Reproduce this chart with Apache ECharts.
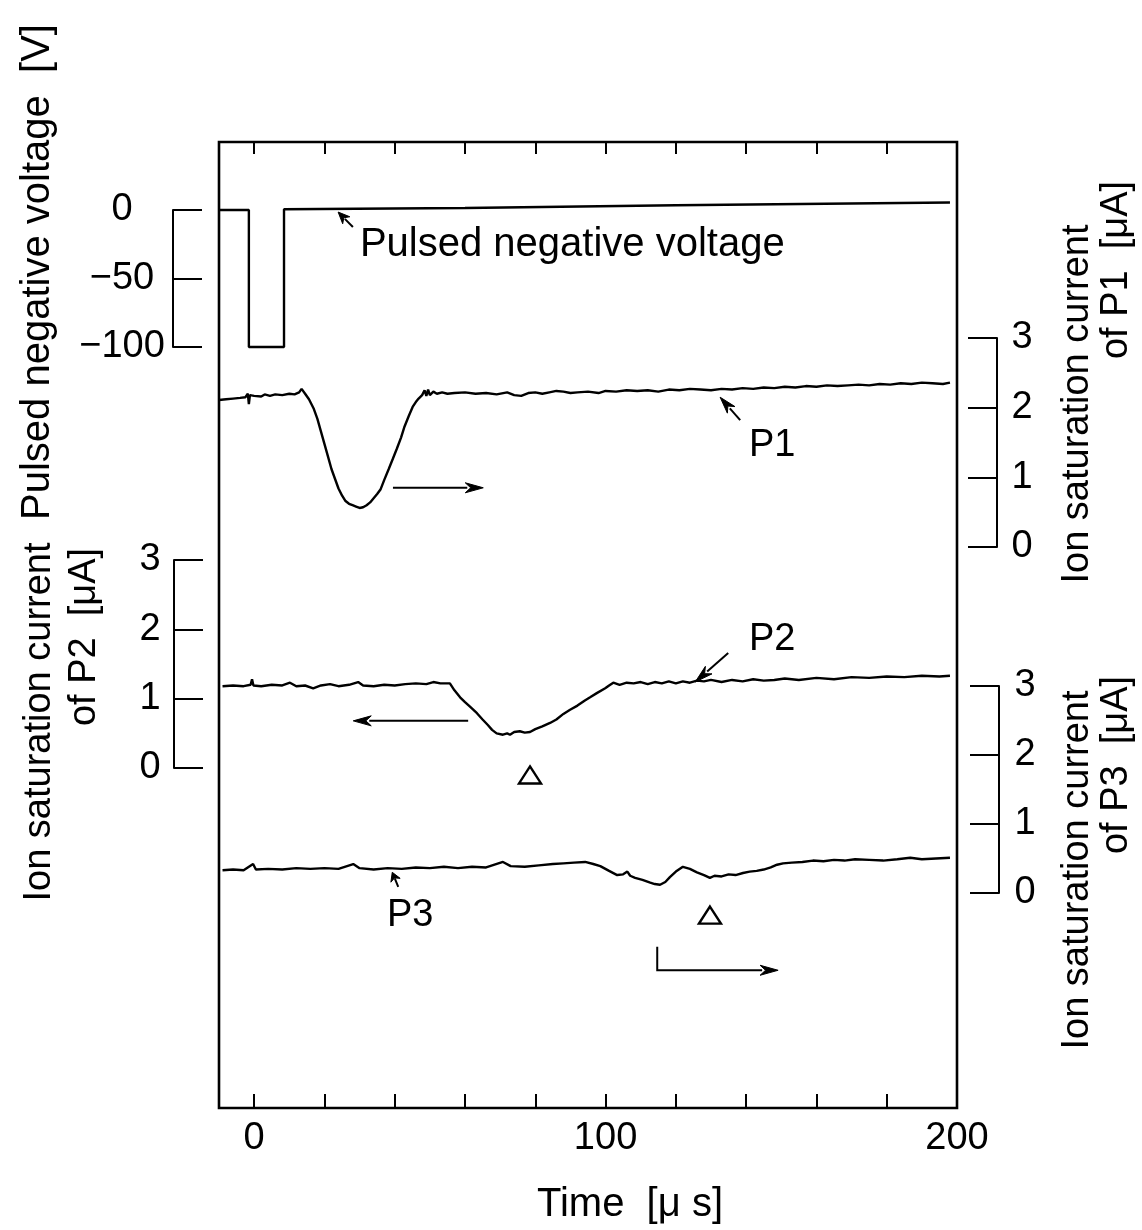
<!DOCTYPE html>
<html><head><meta charset="utf-8">
<script src="https://cdn.jsdelivr.net/npm/echarts@6/dist/echarts.min.js"></script>
<style>html,body{margin:0;padding:0;background:#fff}#c{width:1142px;height:1230px}</style>
</head><body><div id="c"></div>
<script>
const FONT = '"Liberation Sans", Arial, sans-serif';

// ---- axes ----
const timeMin = -10, timeMax = 200;
const xTickValues = [0, 20, 40, 60, 80, 100, 120, 140, 160, 180];
const xLabelValues = [0, 100, 200];

// ---- pulsed negative voltage [V] ----
const voltTime  = [-10, -1.5, -1.5, 8.5, 8.5, 60, 120, 198];
const voltValue = [0, 0, -100, -100, 0.5, 1.5, 3.5, 5.5];

// ---- P1 ion saturation current [uA] ----
const p1Time = [-10,-8,-6,-4,-2.5,-1.8,-1.5,-1.2,0,2,3,4.5,6,8,10,11.5,12.8,13.5,14.5,15.6,17,18,19,20,21,22,23,24,25,26,27,28,29,30,31,32,33,34,35,36,37,38.3,39.5,40.6,41.8,42.8,44,45.1,46,46.8,47.8,48.5,49,49.5,50,51,52,53.5,55,57,60,63,66,69,72,74,76,78,80,82,84,86,88,90,92,95,98,100,103,106,109,112,115,118,121,124,127,130,133,136,139,142,145,148,151,154,157,160,163,166,169,172,175,178,181,184,187,190,193,196,198];
const p1Value = [2.11,2.12,2.13,2.14,2.15,2.20,2.05,2.18,2.17,2.16,2.19,2.17,2.19,2.18,2.20,2.19,2.22,2.27,2.20,2.12,1.98,1.84,1.66,1.48,1.30,1.12,0.98,0.84,0.74,0.66,0.62,0.60,0.58,0.56,0.57,0.60,0.64,0.70,0.76,0.83,0.96,1.12,1.27,1.41,1.57,1.73,1.88,2.01,2.08,2.13,2.18,2.25,2.17,2.26,2.18,2.23,2.20,2.22,2.20,2.21,2.22,2.20,2.21,2.19,2.22,2.18,2.17,2.21,2.22,2.20,2.22,2.24,2.23,2.21,2.22,2.23,2.21,2.24,2.23,2.25,2.24,2.25,2.23,2.26,2.25,2.27,2.26,2.25,2.27,2.26,2.28,2.27,2.29,2.28,2.30,2.29,2.31,2.30,2.32,2.31,2.32,2.33,2.32,2.34,2.33,2.35,2.34,2.36,2.35,2.34,2.36];

// ---- P2 ion saturation current [uA] ----
const p2Time = [-9,-6,-3,-1,-0.6,-0.2,2,5,8,10.2,12,14.5,16.8,19,21.6,24,27,29.6,31,34,37,40,43,46,49,51,53,55.7,57,58.6,60,61.5,63.4,65,66.5,67.7,69,70.8,72,72.8,74,75.6,77,78.5,80,82,84.2,86,88,89.9,92,94,95.6,97.5,99.9,101,102.2,104,106,108,110,112,114,116,118,120,122,124,126,128,130,133,136,139,142,145,148,151,155,160,165,170,175,180,185,190,195,198];
const p2Value = [1.18,1.19,1.18,1.20,1.28,1.19,1.18,1.20,1.19,1.23,1.18,1.19,1.15,1.19,1.21,1.18,1.20,1.24,1.19,1.18,1.20,1.19,1.21,1.22,1.21,1.24,1.22,1.22,1.12,1.02,0.95,0.88,0.79,0.70,0.62,0.55,0.50,0.48,0.50,0.48,0.52,0.53,0.51,0.52,0.56,0.60,0.65,0.70,0.78,0.84,0.90,0.97,1.02,1.08,1.15,1.19,1.23,1.20,1.23,1.22,1.24,1.21,1.24,1.22,1.25,1.22,1.25,1.23,1.26,1.25,1.27,1.24,1.27,1.25,1.28,1.26,1.27,1.29,1.27,1.30,1.28,1.31,1.30,1.32,1.31,1.33,1.32,1.33];

// ---- P3 ion saturation current [uA] ----
const p3Time = [-9,-6,-3,-0.3,0.5,4,8,12,16,20,24,28.2,30,34,38,42,46,50,54,58,62,66,70.8,73,77,81,85,88,91,94.2,96.5,98.5,101,103.3,105,106.2,107,108.4,110.5,112.7,114,115.5,117,118.3,120,122,124,126,128,129.7,131,133,135,137,139.1,141,143,145,147,148.8,150.5,153,156,159,162,165,168,171,175,179,183,186.7,190,194,198];
const p3Value = [0.33,0.34,0.33,0.42,0.34,0.35,0.34,0.36,0.35,0.36,0.35,0.42,0.36,0.34,0.36,0.35,0.37,0.36,0.38,0.36,0.38,0.37,0.45,0.39,0.38,0.40,0.42,0.43,0.44,0.45,0.42,0.39,0.32,0.26,0.27,0.31,0.25,0.22,0.19,0.15,0.13,0.12,0.16,0.23,0.31,0.38,0.35,0.30,0.26,0.22,0.25,0.24,0.27,0.26,0.29,0.31,0.32,0.34,0.37,0.41,0.43,0.44,0.45,0.47,0.46,0.48,0.47,0.49,0.48,0.47,0.49,0.51,0.49,0.50,0.51];

// ---- annotations, in data coordinates of the series they belong to ----
const labelNotes = [ // [seriesIndex, time, value, text, align]
  [0, 30.1, -25.5, 'Pulsed negative voltage', 'left'],
  [1, 147.4, 1.46, 'P1', 'center'],
  [2, 147.4, 1.85, 'P2', 'center'],
  [3, 44.4, -0.32, 'P3', 'center']
];
const arrowNotes = [ // [seriesIndex, [t,v] points..., last point = head]
  [0, [28.1, -12.4], [23.9, -1.5]],
  [1, [138.3, 1.82], [132.6, 2.15]],
  [1, [39.5, 0.85], [65.2, 0.85]],
  [2, [134.9, 1.66], [125.5, 1.24]],
  [2, [60.9, 0.68], [28.2, 0.68]],
  [3, [41.0, 0.09], [39.3, 0.30]],
  [3, [114.7, -0.78], [114.7, -1.12], [149.1, -1.12]]
];
const triangleNotes = [ // [seriesIndex, time, value]
  [2, 78.5, -0.10],
  [3, 129.7, -0.32]
];

const zip = (a, b) => a.map((t, i) => [t, b[i]]);
const GL = 219, GR = 185;

const chart = echarts.init(document.getElementById('c'), null, {renderer: 'canvas'});

const minusFmt = v => String(v).replace('-', '\u2212');
const hiddenX = gi => ({type: 'value', gridIndex: gi, min: timeMin, max: timeMax, show: false});
const sideY = (gi, pos, off, min, max, interval, margin) => ({
  type: 'value', gridIndex: gi, position: pos, offset: off, min: min, max: max, interval: interval,
  axisLine: {show: true, onZero: false, lineStyle: {color: '#000', width: 2}},
  axisTick: {show: true, inside: true, length: 29, lineStyle: {color: '#000', width: 2}},
  axisLabel: {show: true, margin: margin, align: 'center', fontSize: 38, fontFamily: FONT, color: '#000', formatter: minusFmt},
  splitLine: {show: false}
});
const lineSeries = (xi, yi, data) => ({
  type: 'line', xAxisIndex: xi, yAxisIndex: yi, data: data, showSymbol: false, symbol: 'none',
  clip: false, animation: false, silent: true,
  lineStyle: {color: '#000', width: 2.4}
});

chart.setOption({
  animation: false,
  backgroundColor: '#fff',
  grid: [
    {left: GL, right: GR, top: 142, bottom: 122, show: true, borderColor: '#000', borderWidth: 2.6, backgroundColor: 'transparent'},
    {left: GL, right: GR, top: 210, height: 137},
    {left: GL, right: GR, top: 338, height: 209},
    {left: GL, right: GR, top: 560, height: 208},
    {left: GL, right: GR, top: 686, height: 207}
  ],
  xAxis: [
    {type: 'value', gridIndex: 0, position: 'bottom', min: timeMin, max: timeMax,
     axisLine: {show: false},
     axisTick: {show: true, inside: true, length: 14, customValues: xTickValues, lineStyle: {color: '#000', width: 2}},
     axisLabel: {show: true, margin: 12, customValues: xLabelValues, fontSize: 38, fontFamily: FONT, color: '#000'},
     splitLine: {show: false}},
    {type: 'value', gridIndex: 0, position: 'top', min: timeMin, max: timeMax,
     axisLine: {show: false},
     axisTick: {show: true, inside: true, length: 12, customValues: xTickValues, lineStyle: {color: '#000', width: 2}},
     axisLabel: {show: false}, splitLine: {show: false}},
    hiddenX(1), hiddenX(2), hiddenX(3), hiddenX(4)
  ],
  yAxis: [
    {type: 'value', gridIndex: 0, min: 0, max: 1, show: false},
    sideY(1, 'left', 46, -100, 0, 50, 51),
    sideY(2, 'right', 40, 0, 3, 1, 25),
    sideY(3, 'left', 45, 0, 3, 1, 24),
    sideY(4, 'right', 42, 0, 3, 1, 26)
  ],
  series: [
    lineSeries(2, 1, zip(voltTime, voltValue)),
    lineSeries(3, 2, zip(p1Time, p1Value)),
    lineSeries(4, 3, zip(p2Time, p2Value)),
    lineSeries(5, 4, zip(p3Time, p3Value))
  ]
});

// ---- graphics: titles and annotations ----
const txt = (x, y, text, rot, align, size) => ({
  type: 'text', x: x, y: y, rotation: rot || 0, silent: true,
  style: {text: text, fontSize: size || 38, fontFamily: FONT, fill: '#000', align: align || 'center', verticalAlign: 'middle'}
});
const g = [];
const R90 = Math.PI / 2;
g.push(txt(38, 272, 'Pulsed negative voltage  [V]', R90, 'center', 40));
g.push(txt(40, 722, 'Ion saturation current', R90));
g.push(txt(85, 637, 'of P2  [\u03bcA]', R90));
g.push(txt(1078, 404, 'Ion saturation current', R90));
g.push(txt(1117, 270, 'of P1  [\u03bcA]', R90));
g.push(txt(1078, 870, 'Ion saturation current', R90));
g.push(txt(1117, 765, 'of P3  [\u03bcA]', R90));
g.push(txt(630, 1205, 'Time  [\u03bc s]', 0, 'center', 40));

const toPx = (si, t, v) => chart.convertToPixel({seriesIndex: si}, [t, v]);

labelNotes.forEach(n => {
  const p = toPx(n[0], n[1], n[2]);
  g.push(txt(p[0], p[1], n[3], 0, n[4], n[3].length > 3 ? 40 : 38));
});

arrowNotes.forEach(n => {
  const si = n[0];
  const pts = n.slice(1).map(q => toPx(si, q[0], q[1]));
  const head = pts[pts.length - 1], prev = pts[pts.length - 2];
  const dx = head[0] - prev[0], dy = head[1] - prev[1];
  const len = Math.hypot(dx, dy);
  const ux = dx / len, uy = dy / len;
  const hl = Math.min(18, len * 0.55), hw = 5;
  const bx = head[0] - ux * hl, by = head[1] - uy * hl;
  const shaft = pts.slice(0, -1).concat([[bx + ux * 2, by + uy * 2]]);
  g.push({type: 'polyline', silent: true, shape: {points: shaft}, style: {stroke: '#000', lineWidth: 2, fill: null}});
  g.push({type: 'polygon', silent: true, shape: {points: [
    head, [bx - uy * hw, by + ux * hw], [head[0] - ux * hl * 0.7, head[1] - uy * hl * 0.7], [bx + uy * hw, by - ux * hw]
  ]}, style: {fill: '#000', stroke: '#000', lineWidth: 1}});
});

triangleNotes.forEach(n => {
  const p = toPx(n[0], n[1], n[2]);
  const w = 11, h = 17;
  g.push({type: 'polygon', silent: true, shape: {points: [
    [p[0], p[1] - h / 2], [p[0] + w, p[1] + h / 2], [p[0] - w, p[1] + h / 2]
  ]}, style: {fill: null, stroke: '#000', lineWidth: 2.4}});
});

chart.setOption({graphic: g});
</script>
</body></html>
